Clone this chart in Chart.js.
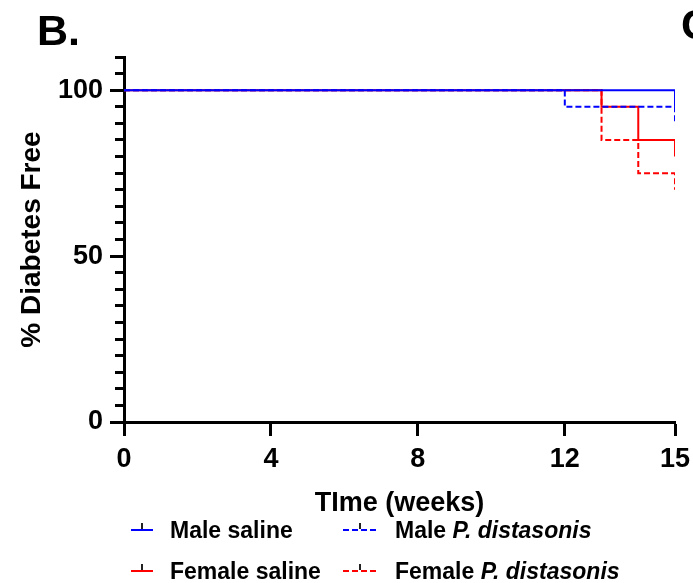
<!DOCTYPE html>
<html>
<head>
<meta charset="utf-8">
<script src="https://cdn.jsdelivr.net/npm/chart.js@4.4.0/dist/chart.umd.min.js"></script>
<style>
    body { margin: 0; background: #fff; }
    #wrap { position: relative; width: 693px; height: 583px; font-family: "Liberation Sans", Arial, sans-serif; }
    #legend .item { position: absolute; height: 23px; font-size: 23px; font-weight: bold; line-height: 23px; color: #000; white-space: nowrap; }
    #legend .sample { position: absolute; left: 0; top: 10px; height: 0; border-top-width: 2px; }
    #legend .sample::after { content: ''; position: absolute; left: 50%; top: -8px; width: 2px; height: 6px; margin-left: -1px; background: #222; }
    #legend .label { position: absolute; top: 0; }
</style>
</head>
<body>
<div id="wrap">
    <canvas id="kmChart" width="693" height="583"></canvas>
    <div id="legend"></div>
</div>
<script>
// 数据：周数 / 无糖尿病百分比（阶梯点）
const seriesNames = ['Male saline', 'Male P. distasonis', 'Female saline', 'Female P. distasonis'];
const seriesColors = ['#0000ff', '#0000ff', '#ff0000', '#ff0000'];
const seriesDashed = [false, true, false, true];

const maleSalineWeeks = [0, 15];
const maleSalineFree = [100, 95];
const malePdWeeks = [0, 12, 15];
const malePdFree = [100, 95, 90];
const femaleSalineWeeks = [0, 13, 14, 15];
const femaleSalineFree = [100, 95, 85, 80];
const femalePdWeeks = [0, 13, 14, 15];
const femalePdFree = [100, 85, 75, 70];

const xTicks = [0, 4, 8, 12, 15];
const yLabelTicks = [0, 50, 100];

const FONT = '"Liberation Sans", Arial, sans-serif';

function toPoints(weeks, free) {
    return weeks.map((w, i) => ({ x: w, y: free[i] }));
}

const allSeries = [
    toPoints(maleSalineWeeks, maleSalineFree),
    toPoints(malePdWeeks, malePdFree),
    toPoints(femaleSalineWeeks, femaleSalineFree),
    toPoints(femalePdWeeks, femalePdFree)
];

// 面板字母 B. / C
const panelLetters = {
    id: 'panelLetters',
    afterDraw(chart) {
        const ctx = chart.ctx;
        ctx.save();
        ctx.fillStyle = '#000';
        ctx.font = 'bold 43px ' + FONT;
        ctx.textBaseline = 'alphabetic';
        ctx.fillText('B.', 37, 45);
        ctx.fillText('C', 681, 39);
        ctx.restore();
    }
};

new Chart(document.getElementById('kmChart'), {
    type: 'line',
    data: {
        datasets: allSeries.map((pts, i) => ({
            label: seriesNames[i],
            data: pts,
            borderColor: seriesColors[i],
            backgroundColor: seriesColors[i],
            borderWidth: 2,
            borderDash: seriesDashed[i] ? [6, 3] : [],
            stepped: 'before',
            pointRadius: 0,
            fill: false
        }))
    },
    options: {
        responsive: false,
        animation: false,
        layout: { padding: { top: 57, right: 18, bottom: 0, left: 0 } },
        plugins: {
            legend: { display: false },
            tooltip: { enabled: false }
        },
        scales: {
            x: {
                type: 'linear',
                min: 0,
                max: 15,
                afterBuildTicks: s => { s.ticks = xTicks.map(v => ({ value: v })); },
                afterFit: s => { s.height = 161; s.paddingLeft = 0; s.paddingRight = 0; },
                grid: { drawOnChartArea: false, tickLength: 14, tickWidth: 3, tickColor: '#000' },
                border: { display: true, width: 3, color: '#000' },
                ticks: {
                    color: '#000',
                    font: { family: FONT, size: 27, weight: 'bold' },
                    padding: 7,
                    maxRotation: 0,
                    autoSkip: false
                },
                title: {
                    display: true,
                    text: 'TIme (weeks)',
                    color: '#000',
                    font: { family: FONT, size: 27, weight: 'bold' },
                    padding: { top: 0, bottom: 63 }
                }
            },
            y: {
                position: 'left',
                weight: 1,
                min: 0,
                max: 110,
                afterBuildTicks: s => { s.ticks = yLabelTicks.map(v => ({ value: v })); },
                afterFit: s => { s.width = 124; },
                grid: { drawOnChartArea: false, tickLength: 14, tickWidth: 3, tickColor: '#000' },
                border: { display: true, width: 3, color: '#000' },
                ticks: {
                    color: '#000',
                    font: { family: FONT, size: 27, weight: 'bold' },
                    padding: 7
                },
                title: {
                    display: true,
                    text: '% Diabetes Free',
                    color: '#000',
                    font: { family: FONT, size: 28, weight: 'bold' },
                    padding: { top: 15, bottom: 0 }
                }
            },
            yMinor: {
                position: 'left',
                weight: 0,
                min: 0,
                max: 110,
                afterFit: s => { s.width = 0; },
                ticks: { display: false, stepSize: 5 },
                grid: { drawOnChartArea: false, tickLength: 9, tickWidth: 3, tickColor: '#000' },
                border: { display: false }
            }
        }
    },
    plugins: [panelLetters]
});

// 图例（两列两行）
const legendEl = document.getElementById('legend');
const colLeft = [131, 343];
const rowTop = [518.5, 559.5];
seriesNames.forEach((name, i) => {
    const col = i % 2;
    const row = Math.floor(i / 2);
    const item = document.createElement('div');
    item.className = 'item';
    item.style.left = colLeft[col] + 'px';
    item.style.top = rowTop[row] + 'px';
    const sampleWidth = seriesDashed[i] ? 33 : 22;
    const textLeft = seriesDashed[i] ? 52 : 39;
    const html = name.replace('P. distasonis', '<i>P. distasonis</i>');
    item.innerHTML =
        `<span class="sample" style="width:${sampleWidth}px;border-top-style:${seriesDashed[i] ? 'dashed' : 'solid'};border-top-color:${seriesColors[i]}"></span>` +
        `<span class="label" style="left:${textLeft}px">${html}</span>`;
    legendEl.appendChild(item);
});
</script>
</body>
</html>
